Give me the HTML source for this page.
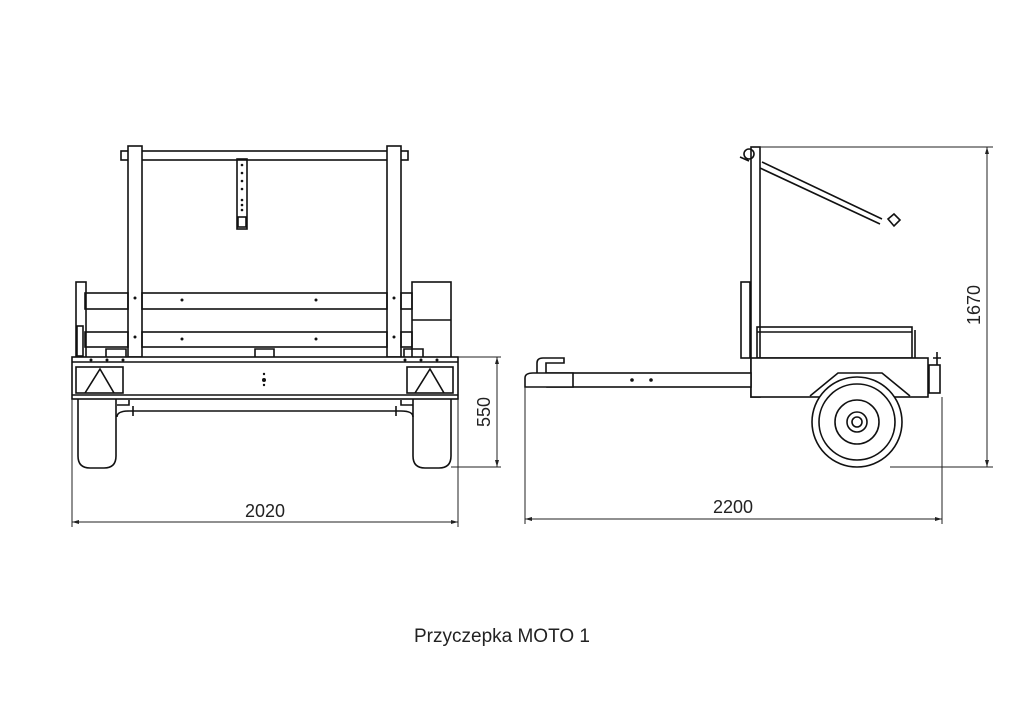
<!DOCTYPE html>
<html><head><meta charset="utf-8"><style>
html,body{margin:0;padding:0;background:#fff;}
svg{display:block}
text{font-family:"Liberation Sans",sans-serif;fill:#222}
</style></head><body>
<svg width="1024" height="724" viewBox="0 0 1024 724" xmlns="http://www.w3.org/2000/svg">
<g fill="none" stroke="#111" stroke-width="1.6">
<!-- FRONT VIEW -->
<rect x="121" y="151" width="287" height="9" fill="#fff"/>
<rect x="128" y="146" width="14" height="211" fill="#fff"/>
<rect x="387" y="146" width="14" height="211" fill="#fff"/>
<rect x="237" y="159" width="10" height="70"/>
<rect x="238" y="217" width="8" height="10"/>
<rect x="85" y="293" width="43" height="16"/><rect x="142" y="293" width="245" height="16"/><rect x="401" y="293" width="11" height="16"/>
<rect x="85" y="332" width="43" height="15"/><rect x="142" y="332" width="245" height="15"/><rect x="401" y="332" width="11" height="15"/>
<rect x="76" y="282" width="10" height="76"/>
<rect x="77" y="326" width="6" height="30"/>
<rect x="412" y="282" width="39" height="76"/>
<line x1="412" y1="320" x2="451" y2="320"/>
<path d="M106 357v-8h20v8M255 357v-8h19v8M404 357v-8h19v8"/>
<rect x="72" y="357" width="386" height="42" fill="#fff"/>
<line x1="72" y1="362" x2="458" y2="362"/><line x1="72" y1="395" x2="458" y2="395"/>
<rect x="76" y="367" width="47" height="26"/>
<path d="M85 393L100 369L114 393"/>
<rect x="407" y="367" width="46" height="26"/>
<path d="M415 393L430 369L444 393"/>
<path d="M78 399v57q0 12 12 12h14q12 0 12-12v-57"/>
<path d="M413 399v57q0 12 12 12h14q12 0 12-12v-57"/>
<path d="M117 405h12v-5M413 405h-12v-5M117 417q0-6 12-6h272q12 0 12 6"/>
<line x1="133" y1="406" x2="133" y2="416"/><line x1="396" y1="406" x2="396" y2="416"/>
<!-- SIDE VIEW -->
<rect x="751" y="147" width="9" height="250" fill="#fff"/>
<circle cx="749" cy="154" r="5"/>
<path d="M740 157l9 4"/>
<path d="M762 162L882 219M760 168L880 224"/>
<path d="M888 219l6-5l6 6l-6 6z"/>
<rect x="741" y="282" width="9" height="76"/>
<rect x="757" y="327" width="155" height="31"/>
<line x1="757" y1="332" x2="912" y2="332"/>
<line x1="915" y1="330" x2="915" y2="358"/>
<rect x="751" y="358" width="177" height="39" fill="#fff"/>
<rect x="929" y="365" width="11" height="28"/>
<path d="M937 352v13M933 358h8"/>
<rect x="547" y="373" width="204" height="14" fill="#fff"/>
<path d="M525 387v-9q0-5 8-5h40v14z" fill="#fff"/>
<path d="M537 373v-10q0-5 6-5h21v5h-18v10"/>
<path d="M810 396l28-23h44l28 23" fill="#fff"/>
<circle cx="857" cy="422" r="45" fill="#fff"/>
<circle cx="857" cy="422" r="38"/>
<circle cx="857" cy="422" r="22"/>
<circle cx="857" cy="422" r="10"/>
<circle cx="857" cy="422" r="5"/>
</g>
<g fill="#111">
<circle cx="632" cy="380" r="1.8"/><circle cx="651" cy="380" r="1.8"/>
<circle cx="182" cy="300" r="1.5"/><circle cx="316" cy="300" r="1.5"/><circle cx="182" cy="339" r="1.5"/><circle cx="316" cy="339" r="1.5"/>
<circle cx="135" cy="298" r="1.5"/><circle cx="394" cy="298" r="1.5"/><circle cx="135" cy="337" r="1.5"/><circle cx="394" cy="337" r="1.5"/>
<circle cx="264" cy="380" r="2"/><circle cx="264" cy="374" r="1.2"/><circle cx="264" cy="385" r="1.2"/>
<circle cx="242" cy="165" r="1.3"/><circle cx="242" cy="173" r="1.3"/><circle cx="242" cy="181" r="1.3"/><circle cx="242" cy="189" r="1.3"/><circle cx="242" cy="200" r="1.3"/><circle cx="242" cy="205" r="1.3"/><circle cx="242" cy="210" r="1.3"/>
<circle cx="91" cy="360" r="1.5"/><circle cx="107" cy="360" r="1.5"/><circle cx="123" cy="360" r="1.5"/><circle cx="405" cy="360" r="1.5"/><circle cx="421" cy="360" r="1.5"/><circle cx="437" cy="360" r="1.5"/>
</g>
<!-- DIMENSIONS -->
<g fill="none" stroke="#222" stroke-width="1">
<path d="M458 357H501M451 467H501M497 357V467"/>
<path d="M72 399V527M458 399V527M72 522H458"/>
<path d="M760 147H993M890 467H993M987 147V467"/>
<path d="M525 387V524M942 397V524M525 519H942"/>
</g>
<g fill="#222">
<path d="M497 357l-2 7h4z"/><path d="M497 467l-2-7h4z"/>
<path d="M72 522l7-2v4z"/><path d="M458 522l-7-2v4z"/>
<path d="M987 147l-2 7h4z"/><path d="M987 467l-2-7h4z"/>
<path d="M525 519l7-2v4z"/><path d="M942 519l-7-2v4z"/>
</g>
<text x="265" y="517" font-size="18" text-anchor="middle">2020</text>
<text x="733" y="513" font-size="18" text-anchor="middle">2200</text>
<text transform="translate(490 412) rotate(-90)" font-size="18" text-anchor="middle">550</text>
<text transform="translate(980 305) rotate(-90)" font-size="18" text-anchor="middle">1670</text>
<text x="502" y="642" font-size="19" text-anchor="middle">Przyczepka MOTO 1</text>
</svg>
</body></html>
